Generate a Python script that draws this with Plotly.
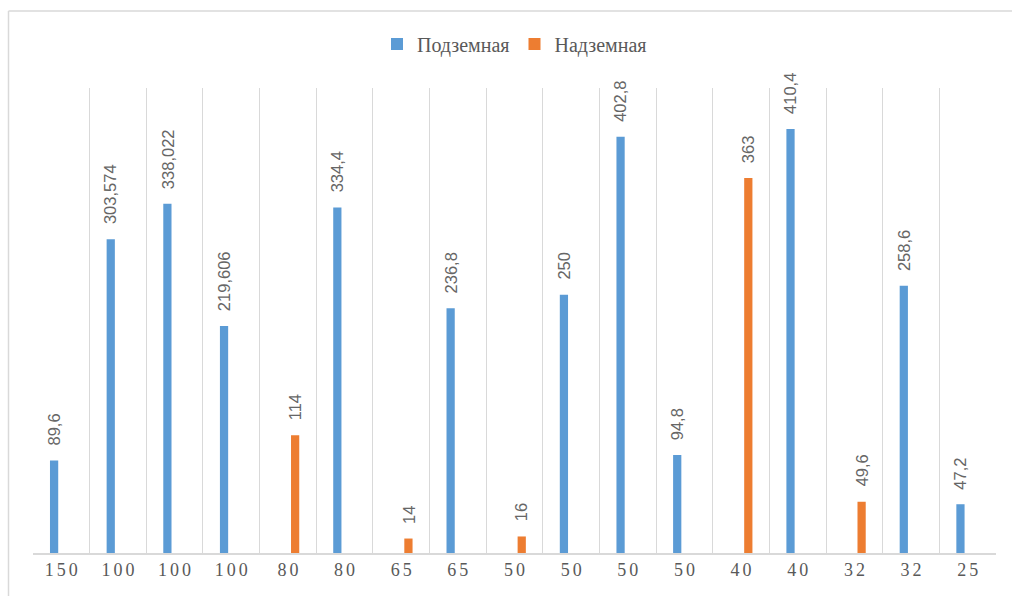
import plotly.graph_objects as go

# ---- data ----
categories = ["150", "100", "100", "100", "80", "80", "65", "65", "50",
              "50", "50", "50", "40", "40", "32", "32", "25"]
podzemnaya = [89.6, 303.574, 338.022, 219.606, None, 334.4, None, 236.8, None,
              250, 402.8, 94.8, None, 410.4, None, 258.6, 47.2]
nadzemnaya = [None, None, None, None, 114, None, 14, None, 16,
              None, None, None, 363, None, 49.6, None, None]
series_names = ["Подземная", "Надземная"]
series_colors = ["#5B9BD5", "#ED7D31"]

# body margin is removed in the page, so figure coords == page coords
W, H = 1012, 596
ML, MR, MT, MB = 33, 16, 88, 43.3

x_idx = list(range(len(categories)))
tick_text = ["\u2006".join(list(c)) for c in categories]


def fmt(v):
    if v is None:
        return ""
    if float(v).is_integer():
        return str(int(v))
    return str(v).replace(".", ",")


fig = go.Figure()
for name, vals, col in zip(series_names, [podzemnaya, nadzemnaya], series_colors):
    fig.add_trace(go.Bar(
        name=name, x=x_idx, y=vals, marker_color=col,
        marker_line_width=0, hoverinfo="skip",
    ))

# data labels as annotations (rotated, above bars)
annotations = []
for vals, shift in [(podzemnaya, -7.2), (nadzemnaya, 7.2)]:
    for i, v in enumerate(vals):
        if v is None:
            continue
        annotations.append(dict(
            x=i, y=v, xref="x", yref="y", text=fmt(v), showarrow=False,
            textangle=-90, xanchor="center", yanchor="bottom",
            xshift=shift, yshift=13,
            font=dict(family="Liberation Sans", size=16.5, color="#666666"),
        ))

plot_w = W - ML - MR
plot_h = H - MT - MB
left_px, top_px = 8.5, 11
bx0 = (left_px - ML) / plot_w
bx1 = (W - ML) / plot_w
by0 = (H - MB - H) / plot_h
by1 = (H - MB - top_px) / plot_h

shapes = [
    dict(type="line", xref="paper", yref="paper", x0=bx0, x1=bx0, y0=by0, y1=by1,
         line=dict(color="#D9D9D9", width=1.5), layer="below"),
    dict(type="line", xref="paper", yref="paper", x0=bx0, x1=bx1, y0=by1, y1=by1,
         line=dict(color="#D9D9D9", width=1.5), layer="below"),
]

fig.update_layout(
    width=W, height=H,
    margin=dict(l=ML, r=MR, t=MT, b=MB),
    paper_bgcolor="white", plot_bgcolor="white",
    barmode="group", bargap=0.49, bargroupgap=0.43,
    showlegend=True,
    legend=dict(orientation="h", x=0.5, xanchor="center",
                y=(H - MB - 44) / plot_h, yanchor="middle",
                font=dict(family="Liberation Serif", size=20, color="#595959"),
                itemclick=False, itemdoubleclick=False),
    annotations=annotations,
    shapes=shapes,
    xaxis=dict(
        range=[-0.5, len(categories) - 0.5],
        tickmode="array", tickvals=x_idx, ticktext=tick_text,
        showgrid=False, zeroline=False, ticks="",
        showline=True, linecolor="#D9D9D9", linewidth=1.5,
        tickfont=dict(family="Liberation Serif", size=18, color="#595959"),
        minor=dict(tick0=-0.5, dtick=1, showgrid=True, gridcolor="#D9D9D9", gridwidth=1.3),
        fixedrange=True,
    ),
    yaxis=dict(range=[0, 450], visible=False, showgrid=False, zeroline=False, fixedrange=True),
)

fig.write_html(
    "out.html",
    config={"displayModeBar": False},
    post_script=("document.body.style.margin='0';"
                 "document.documentElement.style.overflow='hidden';"
                 "document.body.style.overflow='hidden';"),
)
